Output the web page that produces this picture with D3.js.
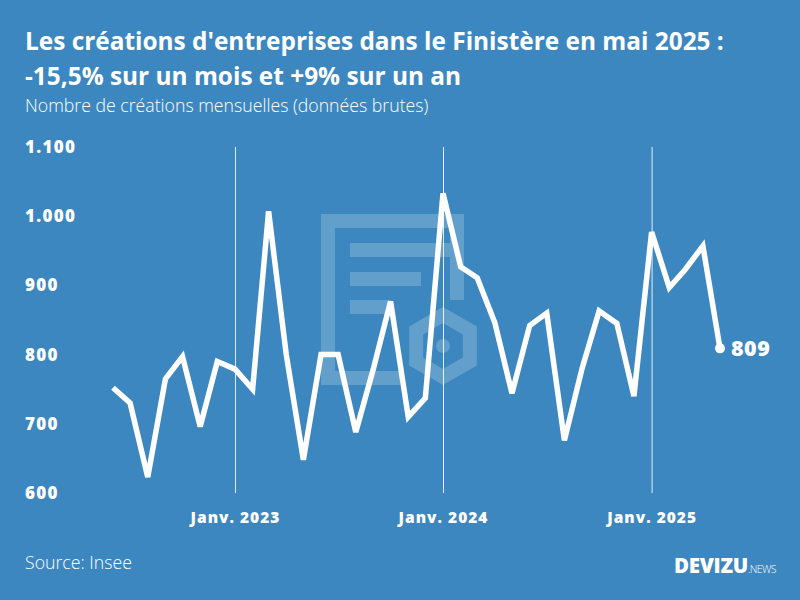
<!DOCTYPE html>
<html><head><meta charset="utf-8">
<script src="https://cdn.jsdelivr.net/npm/d3@7"></script>
<style>
html,body{margin:0;padding:0;background:#3c87bf}
svg{display:block}
text{font-family:"Open Sans",sans-serif;fill:#fff}
</style></head><body><svg id="c" width="800" height="600"></svg>
<script>
const startMonth = "2022-06";
const values = [752,730,623,765,797,696,790,779,750,1007,800,648,800,800,688,780,877,710,737,1033,927,911,846,744,842,860,676,780,863,845,740,977,897,923,957,809];
const yTicks = [600,700,800,900,1000,1100];
const yTickLabels = ["600","700","800","900","1.000","1.100"];
const xTicks = ["2023-01","2024-01","2025-01"];
const xTickLabels = ["Janv. 2023","Janv. 2024","Janv. 2025"];
const titleLines = ["Les créations d'entreprises dans le Finistère en mai 2025 :","-15,5% sur un mois et +9% sur un an"];
const subtitle = "Nombre de créations mensuelles (données brutes)";
const source = "Source: Insee";

const svg = d3.select("#c");
const parse = d3.timeParse("%Y-%m");
const months = values.map((_,i)=>d3.timeMonth.offset(parse(startMonth),i));
const x = d3.scaleTime().domain([months[0],months[months.length-1]]).range([113,720]);
const y = d3.scaleLinear().domain([600,1100]).range([493,147]);

svg.append("rect").attr("width",800).attr("height",600).attr("fill","#3c87bf");

// watermark
const wm = svg.append("g").attr("fill","#fff").attr("fill-opacity",0.2);
wm.append("path").attr("d","M321,214H464V300H450V228H335V371H400V385H321Z");
[[350,243,100],[350,272,71],[350,300,40]].forEach(d=>wm.append("rect").attr("x",d[0]).attr("y",d[1]).attr("width",d[2]).attr("height",14));
const hex = d3.range(6).map(i=>{const a=Math.PI/3*i-Math.PI/2;return [443+31*Math.cos(a),346+31*Math.sin(a)];});
svg.append("path").attr("d","M"+hex.join("L")+"Z").attr("fill","none").attr("stroke","#fff").attr("stroke-opacity",0.2).attr("stroke-width",14);
wm.append("circle").attr("cx",443).attr("cy",346).attr("r",7);

// axes
const gx = svg.append("g").attr("transform","translate(0,493)")
  .call(d3.axisBottom(x).tickValues(xTicks.map(parse)).tickSize(-346).tickFormat((d,i)=>xTickLabels[i]));
gx.select(".domain").remove();
gx.selectAll("line").attr("stroke","#fff").attr("stroke-opacity",0.85).attr("stroke-width",1);
gx.selectAll("text").attr("y",25.5).attr("dy",0).attr("dominant-baseline","middle").style("font-size","15.5px").style("font-weight",800).attr("fill","#fff").style("letter-spacing","1px");

const gy = svg.append("g").attr("transform","translate(25,0)")
  .call(d3.axisLeft(y).tickValues(yTicks).tickSize(0).tickFormat((d,i)=>yTickLabels[i]));
gy.select(".domain").remove();
gy.selectAll("text").attr("x",0).attr("dy",1).attr("dominant-baseline","middle").attr("text-anchor","start").style("font-size","17px").style("font-weight",800).attr("fill","#fff").style("letter-spacing","1.3px");

// series
svg.append("path").attr("d",d3.line().x((d,i)=>x(months[i])).y(d=>y(d))(values))
  .attr("fill","none").attr("stroke","#fff").attr("stroke-width",5.5).attr("stroke-linejoin","miter").attr("stroke-miterlimit",3);
const last = values.length-1;
svg.append("circle").attr("cx",x(months[last])).attr("cy",y(values[last])).attr("r",5).attr("fill","#fff");
svg.append("text").attr("x",x(months[last])+11).attr("y",y(values[last])+8).text(values[last]).style("font-size","21.5px").style("font-weight",800).style("letter-spacing","0.5px");

// titles
svg.selectAll(".t").data(titleLines).enter().append("text").attr("class","t").attr("x",25).attr("y",(d,i)=>50+i*34.5)
  .text(d=>d).style("font-size","24.4px").style("font-weight",700);
svg.append("text").attr("x",25).attr("y",112).text(subtitle).style("font-size","17.7px").style("font-weight",300);
svg.append("text").attr("x",25).attr("y",569).text(source).style("font-size","17.7px").style("font-weight",300);

// logo
const logo = svg.append("text").attr("x",674).attr("y",573);
logo.append("tspan").text("DEVIZU").style("font-size","20.5px").style("font-weight",800).style("letter-spacing","-0.3px");
logo.append("tspan").text(".NEWS").style("font-size","10.5px").style("font-weight",300).style("letter-spacing","-0.6px");
</script></body></html>
